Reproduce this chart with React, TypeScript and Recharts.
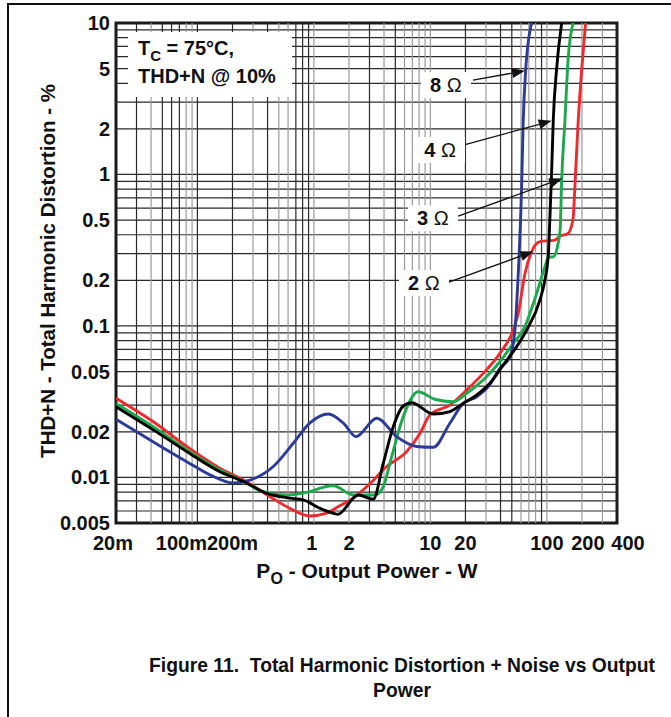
import React from "react";
import {
  LineChart,
  Line,
  XAxis,
  YAxis,
  ReferenceLine,
  ReferenceArea,
  ReferenceDot,
} from "recharts";

// output power (W) / THD+N (%), one pair per load
const power2 = [0.02, 0.0418, 0.081, 0.156, 0.248, 0.42, 0.62, 0.92, 1.29, 1.61, 2.18, 3.03, 4.21, 6.25, 8.13, 9.9, 14.7, 20.5, 28.4, 39.5, 51.4, 56.8, 64.9, 74, 87.1, 117, 130, 152, 168, 174, 186, 199, 215];
const thd2 = [0.0333, 0.0233, 0.016, 0.0115, 0.0096, 0.00746, 0.00625, 0.00556, 0.0058, 0.0064, 0.0073, 0.0091, 0.0118, 0.0148, 0.0195, 0.0258, 0.03, 0.0377, 0.0486, 0.0659, 0.094, 0.121, 0.222, 0.309, 0.36, 0.369, 0.392, 0.408, 0.513, 0.83, 2.29, 4.89, 10];

const power3 = [0.02, 0.0418, 0.081, 0.156, 0.248, 0.367, 0.584, 0.92, 1.2, 1.47, 2.18, 3.34, 3.94, 4.65, 5.85, 7.87, 10.9, 15.7, 20.5, 28.4, 39.5, 51.4, 62.7, 81.7, 96.2, 103, 113.5, 125, 130, 134, 143, 152, 168];
const thd3 = [0.0308, 0.0216, 0.0152, 0.0112, 0.0094, 0.00805, 0.00765, 0.00805, 0.0086, 0.0088, 0.00765, 0.00765, 0.0087, 0.0137, 0.0252, 0.0368, 0.0328, 0.0316, 0.0359, 0.044, 0.058, 0.0768, 0.094, 0.164, 0.246, 0.284, 0.286, 0.351, 0.43, 0.92, 2.29, 5.69, 10];

const power4 = [0.02, 0.0418, 0.081, 0.156, 0.248, 0.393, 0.62, 0.81, 1.13, 1.47, 1.6, 2.4, 3.23, 3.94, 4.8, 5.85, 6.9, 10.6, 14.7, 19.1, 25, 32.4, 42.2, 55, 67, 87.1, 96.2, 103, 106, 110, 113.5, 121, 134];
const thd4 = [0.0293, 0.0206, 0.0148, 0.0109, 0.0094, 0.00785, 0.0073, 0.0071, 0.00625, 0.0058, 0.0057, 0.00765, 0.00717, 0.0124, 0.0216, 0.0296, 0.0311, 0.0262, 0.0272, 0.0308, 0.035, 0.0418, 0.0552, 0.073, 0.094, 0.148, 0.201, 0.3, 0.5, 1.07, 2.29, 4.89, 10];

const power8 = [0.02, 0.0416, 0.081, 0.128, 0.203, 0.283, 0.448, 0.665, 0.92, 1.33, 1.79, 2.3, 3.46, 5.13, 7.62, 10.6, 14.7, 19.1, 25, 31.4, 39.5, 48.2, 53.2, 55.9, 60.7, 62.7, 65.8, 74];
const thd8 = [0.0242, 0.0172, 0.0127, 0.0104, 0.0092, 0.0096, 0.0118, 0.0168, 0.0228, 0.0262, 0.0228, 0.0186, 0.0246, 0.0186, 0.016, 0.0158, 0.0228, 0.0308, 0.0341, 0.0397, 0.0525, 0.0627, 0.094, 0.173, 0.83, 2.29, 4.89, 10];

const xTicks = [0.02, 0.1, 0.2, 1, 2, 10, 20, 100, 200, 400];
const xTickLabels = ["20m", "100m", "200m", "1", "2", "10", "20", "100", "200", "400"];
const yTicks = [0.005, 0.01, 0.02, 0.05, 0.1, 0.2, 0.5, 1, 2, 5, 10];
const yTickLabels = ["0.005", "0.01", "0.02", "0.05", "0.1", "0.2", "0.5", "1", "2", "5", "10"];

// log grid
const gridP = [0.03, 0.04, 0.05, 0.06, 0.07, 0.08, 0.09, 0.1, 0.2, 0.3, 0.4, 0.5, 0.6, 0.7, 0.8, 0.9, 1, 2, 3, 4, 5, 6, 7, 8, 9, 10, 20, 30, 40, 50, 60, 70, 80, 90, 100, 200, 300];
const greyP = [0.04, 0.08, 0.09, 0.3, 0.5, 0.6, 1, 2, 4, 6, 7, 8, 9, 10, 30, 60, 70, 80, 100, 200, 300];
const gridT = [0.006, 0.007, 0.008, 0.009, 0.01, 0.02, 0.03, 0.04, 0.05, 0.06, 0.07, 0.08, 0.09, 0.1, 0.2, 0.3, 0.4, 0.5, 0.6, 0.7, 0.8, 0.9, 1, 2, 3, 4, 5, 6, 7, 8, 9];

// load labels and their arrows: label point, arrow tail, arrow tip
const loadNames = ["8", "4", "3", "2"];
const labelP = [13.6, 12.1, 10.5, 8.8];
const labelT = [3.89, 1.45, 0.515, 0.192];
const tailP = [23.2, 18.5, 17.3, 13.3];
const tailT = [4.2, 1.55, 0.53, 0.19];
const tipP = [64.9, 110, 135.5, 76.4];
const tipT = [4.83, 2.26, 0.94, 0.31];

const FONT = '"Liberation Sans", Arial, Helvetica, sans-serif';

const zip = (p: number[], t: number[]) => p.map((v, i) => ({ p: v, thd: t[i] }));

const series = [
  { name: "2 Ω", data: zip(power2, thd2), color: "#ee2a2f" },
  { name: "3 Ω", data: zip(power3, thd3), color: "#1ba94c" },
  { name: "8 Ω", data: zip(power8, thd8), color: "#2e3b96" },
  { name: "4 Ω", data: zip(power4, thd4), color: "#000000" },
];

const xTickShift: Record<string, number> = { "20m": -3, "100m": -16, "1": -2, "200": 6, "400": 11 };

function XTick({ x, y, payload }: any) {
  const label = xTickLabels[xTicks.indexOf(payload.value)] ?? "";
  return (
    <text
      x={x + (xTickShift[label] ?? 0)}
      y={y + 27}
      textAnchor="middle"
      fontFamily={FONT}
      fontWeight="bold"
      fontSize={20}
      fill="#111"
    >
      {label}
    </text>
  );
}

function YTick({ x, y, payload }: any) {
  const label = yTickLabels[yTicks.indexOf(payload.value)] ?? "";
  return (
    <text
      x={x - 6}
      y={y + 7}
      textAnchor="end"
      fontFamily={FONT}
      fontWeight="bold"
      fontSize={20}
      fill="#111"
    >
      {label}
    </text>
  );
}

function Arrow(props: any) {
  const { x1, y1, x2, y2 } = props;
  const a = Math.atan2(y2 - y1, x2 - x1);
  const len = 13;
  const half = 5;
  const bx = x2 - len * Math.cos(a);
  const by = y2 - len * Math.sin(a);
  const nx = -Math.sin(a) * half;
  const ny = Math.cos(a) * half;
  return (
    <g>
      <line x1={x1} y1={y1} x2={bx} y2={by} stroke="#111" strokeWidth={1.3} />
      <polygon points={`${x2},${y2} ${bx + nx},${by + ny} ${bx - nx},${by - ny}`} fill="#111" />
    </g>
  );
}

function LoadLabel({ cx, cy, name }: any) {
  return (
    <g>
      <rect x={cx - 25} y={cy - 13} width={50} height={26} fill="#fff" />
      <text x={cx} y={cy + 7} textAnchor="middle" fontFamily={FONT} fontSize={20} fill="#111">
        <tspan fontWeight="bold">{name}</tspan>
        <tspan> Ω</tspan>
      </text>
    </g>
  );
}

export default function App() {
  return (
    <div
      style={{
        position: "absolute",
        left: 0,
        top: 0,
        width: 671,
        height: 717,
        overflow: "hidden",
        background: "#fff",
        fontFamily: FONT,
      }}
    >
      {/* figure frame */}
      <div
        style={{
          position: "absolute",
          left: 7,
          top: 3,
          width: 700,
          height: 800,
          borderLeft: "2px solid #111",
          borderTop: "2px solid #111",
        }}
      />

      <div style={{ position: "absolute", left: 0, top: 0 }}>
        <LineChart
          width={671}
          height={600}
          margin={{ top: 23, right: 54, bottom: 17, left: 56 }}
        >
          <XAxis
            dataKey="p"
            type="number"
            scale="log"
            domain={[0.02, 400]}
            ticks={xTicks}
            allowDataOverflow
            axisLine={false}
            tickLine={false}
            tickSize={0}
            tickMargin={0}
            height={60}
            interval={0}
            tick={<XTick />}
          />
          <YAxis
            dataKey="thd"
            type="number"
            scale="log"
            domain={[0.005, 10]}
            ticks={yTicks}
            allowDataOverflow
            axisLine={false}
            tickLine={false}
            tickSize={0}
            tickMargin={0}
            width={60}
            interval={0}
            tick={<YTick />}
          />

          {gridT.map((v) => (
            <ReferenceLine key={`h${v}`} y={v} stroke="#2a2a2a" strokeWidth={1.2} />
          ))}
          {gridP.map((v) => (
            <ReferenceLine
              key={`v${v}`}
              x={v}
              stroke={greyP.includes(v) ? "#9a9a9a" : "#2a2a2a"}
              strokeWidth={1.2}
            />
          ))}

          {series.map((s) => (
            <Line
              key={s.name}
              name={s.name}
              data={s.data}
              dataKey="thd"
              type="monotone"
              stroke={s.color}
              strokeWidth={2.9}
              dot={false}
              isAnimationActive={false}
            />
          ))}

          <ReferenceArea
            x1={0.02}
            x2={400}
            y1={0.005}
            y2={10}
            fill="none"
            fillOpacity={0}
            stroke="#1a1a1a"
            strokeWidth={3}
          />

          {loadNames.map((n, i) => (
            <ReferenceLine
              key={`a${n}`}
              segment={[
                { x: tailP[i], y: tailT[i] },
                { x: tipP[i], y: tipT[i] },
              ]}
              shape={(props: any) => <Arrow {...props} />}
            />
          ))}
          {loadNames.map((n, i) => (
            <ReferenceDot
              key={`l${n}`}
              x={labelP[i]}
              y={labelT[i]}
              r={0}
              shape={(props: any) => <LoadLabel {...props} name={n} />}
            />
          ))}
        </LineChart>
      </div>

      {/* condition box, axis titles, caption */}
      <svg
        width={671}
        height={717}
        style={{ position: "absolute", left: 0, top: 0, pointerEvents: "none" }}
        fontFamily={FONT}
        fontWeight="bold"
        fill="#111"
      >
        <rect x={128} y={32} width={164} height={65} fill="#fff" />
        <text x={138} y={55} fontSize={20}>
          T<tspan fontSize={15} dy={6}>C</tspan>
          <tspan dy={-6}> = 75°C,</tspan>
        </text>
        <text x={138} y={83} fontSize={20}>
          THD+N @ 10%
        </text>

        <text
          transform="translate(55,271) rotate(-90)"
          textAnchor="middle"
          fontSize={20.5}
        >
          THD+N - Total Harmonic Distortion - %
        </text>

        <text x={367} y={578} textAnchor="middle" fontSize={21}>
          P<tspan fontSize={16} dy={6}>O</tspan>
          <tspan dy={-6}> - Output Power - W</tspan>
        </text>

        <text x={402} y={672} textAnchor="middle" fontSize={19.3} xmlSpace="preserve">
          Figure 11.  Total Harmonic Distortion + Noise vs Output
        </text>
        <text x={402} y={697} textAnchor="middle" fontSize={19.3}>
          Power
        </text>
      </svg>
    </div>
  );
}
